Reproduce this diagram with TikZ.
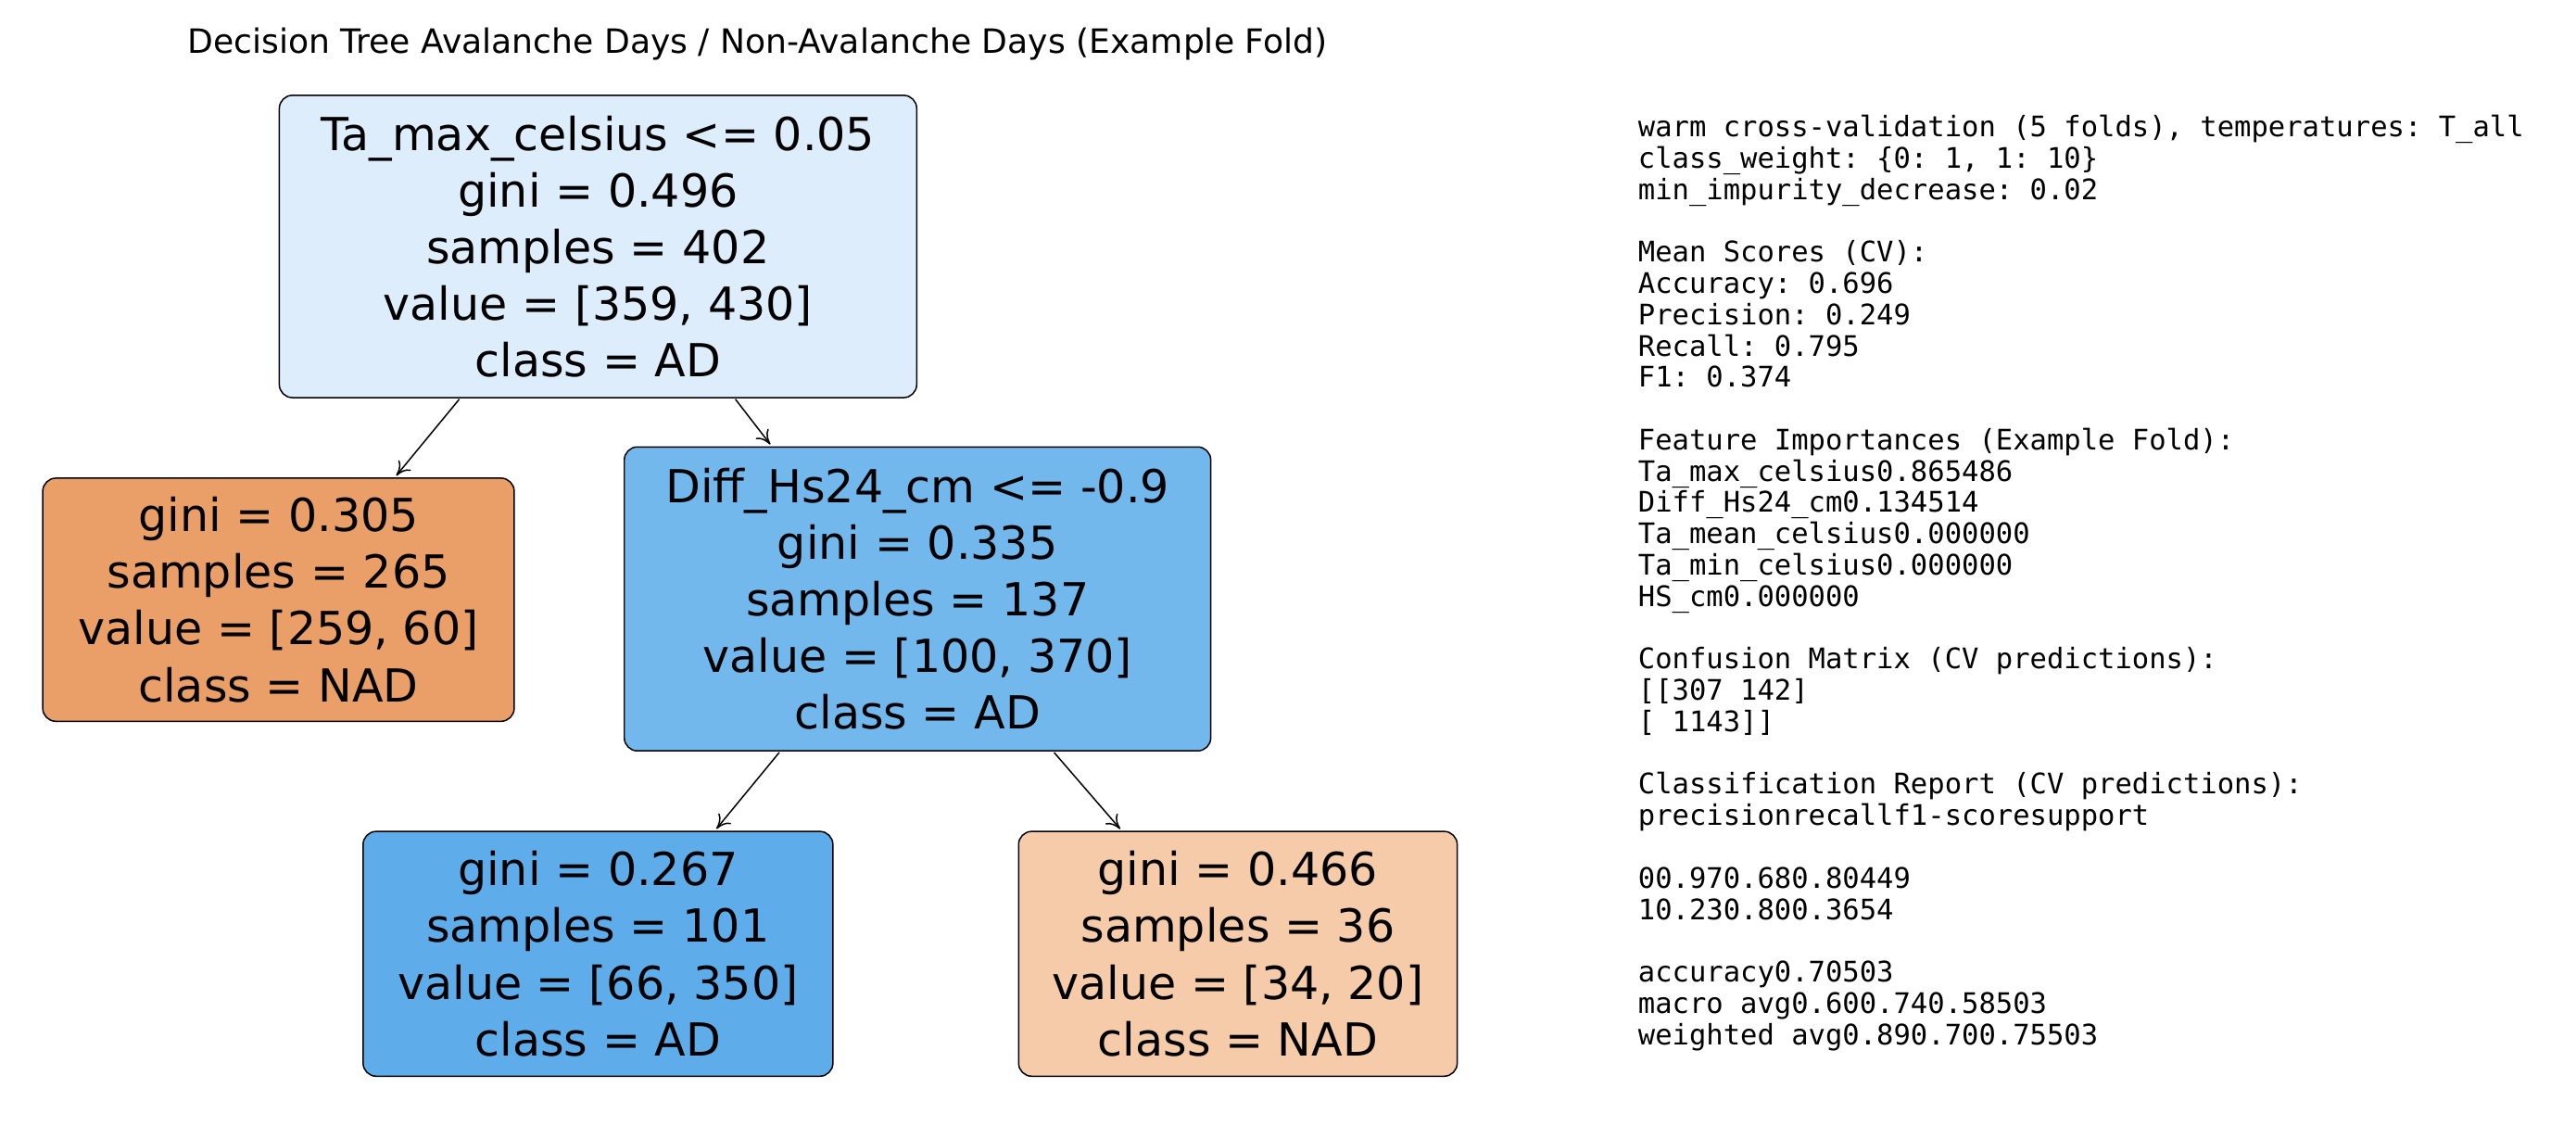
\documentclass[tikz,border=0pt]{standalone}
\usepackage{fontspec}
\setmainfont{DejaVu Sans}
\setmonofont{DejaVu Sans Mono}
\usetikzlibrary{calc,arrows.meta}
\newlength\chw
\newcommand\sk[1]{\hspace*{#1\chw}}
\definecolor{cRoot}{RGB}{222,237,251}
\definecolor{cL}{RGB}{235,159,104}
\definecolor{cM}{RGB}{114,184,237}
\definecolor{cBL}{RGB}{94,173,234}
\definecolor{cBR}{RGB}{245,203,170}
\tikzset{
 tbox/.style={draw=black,line width=1.2pt,rounded corners=0.4cm,align=center,inner sep=0pt,
   font=\fontsize{39.4}{49}\selectfont},
 edge/.style={-{To[length=12pt,width=14pt]},line width=1.2pt,shorten >=2pt,shorten <=1pt}
}
\begin{document}
\begin{tikzpicture}[x=0.05cm,y=-0.05cm]
\useasboundingbox[fill=white] (0,0) rectangle (1568,685);
\node[font=\fontsize{29}{34}\selectfont] (title) at (461,27) {Decision Tree Avalanche Days / Non-Avalanche Days (Example Fold)};
\node[tbox,fill=cRoot,minimum width=19.4cm,minimum height=9.2cm] (root) at (364,150)
 {Ta\_max\_celsius <= 0.05\\gini = 0.496\\samples = 402\\value = [359, 430]\\class = AD};
\node[tbox,fill=cL,minimum width=14.35cm,minimum height=7.4cm] (left) at (169.5,365)
 {gini = 0.305\\samples = 265\\value = [259, 60]\\class = NAD};
\node[tbox,fill=cM,minimum width=17.85cm,minimum height=9.25cm] (mid) at (558.5,364.5)
 {Diff\_Hs24\_cm <= -0.9\\gini = 0.335\\samples = 137\\value = [100, 370]\\class = AD};
\node[tbox,fill=cBL,minimum width=14.3cm,minimum height=7.45cm] (bl) at (364,580.5)
 {gini = 0.267\\samples = 101\\value = [66, 350]\\class = AD};
\node[tbox,fill=cBR,minimum width=13.35cm,minimum height=7.45cm] (br) at (753.5,580.5)
 {gini = 0.466\\samples = 36\\value = [34, 20]\\class = NAD};
\draw[edge] ($(root.south west)!0.284!(root.south east)$) -- ($(left.north west)!0.746!(left.north east)$);
\draw[edge] ($(root.south west)!0.714!(root.south east)$) -- ($(mid.north west)!0.252!(mid.north east)$);
\draw[edge] ($(mid.south west)!0.266!(mid.south east)$) -- ($(bl.north west)!0.748!(bl.north east)$);
\draw[edge] ($(mid.south west)!0.731!(mid.south east)$) -- ($(br.north west)!0.236!(br.north east)$);
\node[anchor=north west,inner sep=0pt,align=left,font=\ttfamily\fontsize{24.5}{27.1}\selectfont] (report) at (997,70) {%
\settowidth{\chw}{0}%
warm cross-validation (5 folds), temperatures: T\_all\\
class\_weight: \{0: 1, 1: 10\}\\
min\_impurity\_decrease: 0.02\\[27.1pt]
Mean Scores (CV):\\
Accuracy: 0.696\\
Precision: 0.249\\
Recall: 0.795\\
F1: 0.374\\[27.1pt]
Feature Importances (Example Fold):\\
Ta\_max\_celsius\sk{5}0.865486\\
Diff\_Hs24\_cm\sk{7}0.134514\\
Ta\_mean\_celsius\sk{4}0.000000\\
Ta\_min\_celsius\sk{5}0.000000\\
HS\_cm\sk{14}0.000000\\[27.1pt]
Confusion Matrix (CV predictions):\\
\relax[[307 142]\\
\sk{1}[ 11\sk{2}43]]\\[27.1pt]
Classification Report (CV predictions):\\
\sk{14}precision\sk{4}recall\sk{2}f1-score\sk{3}support\\[27.1pt]
\sk{11}0\sk{7}0.97\sk{6}0.68\sk{6}0.80\sk{7}449\\
\sk{11}1\sk{7}0.23\sk{6}0.80\sk{6}0.36\sk{8}54\\[27.1pt]
\sk{4}accuracy\sk{27}0.70\sk{7}503\\
\sk{3}macro avg\sk{7}0.60\sk{6}0.74\sk{6}0.58\sk{7}503\\
weighted avg\sk{7}0.89\sk{6}0.70\sk{6}0.75\sk{7}503};
\end{tikzpicture}
\end{document}
